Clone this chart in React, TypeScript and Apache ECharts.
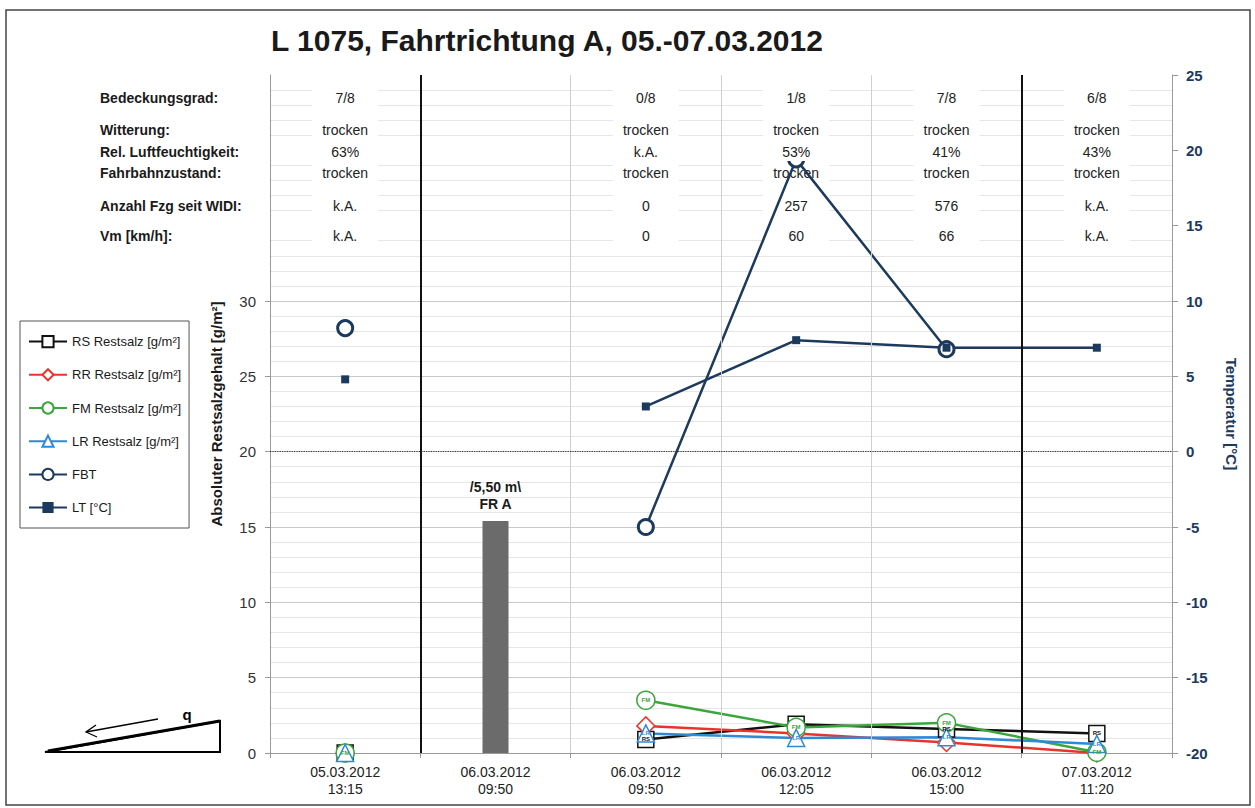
import React, { useEffect, useRef } from "react";
import * as echarts from "echarts";

const categories = [
  "05.03.2012\n13:15",
  "06.03.2012\n09:50",
  "06.03.2012\n09:50",
  "06.03.2012\n12:05",
  "06.03.2012\n15:00",
  "07.03.2012\n11:20",
];

const rsValues = [0, null, 0.9, 1.9, 1.6, 1.3];
const rrValues = [0, null, 1.8, 1.3, 0.7, 0];
const fmValues = [0, null, 3.5, 1.7, 2.0, 0.05];
const lrValues = [0, null, 1.3, 1.0, 1.05, 0.6];
const fbtValues = [8.2, null, -5.0, 19.4, 6.8, null];
const ltValues = [4.8, null, 3.0, 7.4, 6.9, 6.9];
const barValues = [null, 15.4, null, null, null, null];
const barLabel = "/5,50 m\\\nFR A";

const leftTicks = [0, 5, 10, 15, 20, 25, 30];

const headerLabels = [
  "Bedeckungsgrad:",
  "Witterung:",
  "Rel. Luftfeuchtigkeit:",
  "Fahrbahnzustand:",
  "Anzahl Fzg seit WIDI:",
  "Vm [km/h]:",
];
const rowBedeckung = ["7/8", "", "0/8", "1/8", "7/8", "6/8"];
const rowWitterung = ["trocken", "", "trocken", "trocken", "trocken", "trocken"];
const rowFeuchte = ["63%", "", "k.A.", "53%", "41%", "43%"];
const rowFahrbahn = ["trocken", "", "trocken", "trocken", "trocken", "trocken"];
const rowAnzahl = ["k.A.", "", "0", "257", "576", "k.A."];
const rowVm = ["k.A.", "", "0", "60", "66", "k.A."];
const headerRows = [rowBedeckung, rowWitterung, rowFeuchte, rowFahrbahn, rowAnzahl, rowVm];
const headerRowY = [98, 130, 152, 173, 206, 236];
const headerRowOpaque = [true, true, true, false, false, false];

const NAVY = "#1c3a5e";
const FONT = "'Liberation Sans', Arial, sans-serif";

export default function App() {
  const ref = useRef<HTMLDivElement>(null);

  useEffect(() => {
    if (!ref.current) return;
    const chart = echarts.init(ref.current, undefined, { renderer: "svg" });

    const gridLeft = 270;
    const gridRight = 1172;
    const colW = (gridRight - gridLeft) / categories.length;

    const graphics: any[] = [];
    graphics.push({
      type: "rect",
      shape: { x: 6, y: 10, width: 1244, height: 795 },
      style: { fill: "none", stroke: "#444", lineWidth: 1.5 },
      z: 0,
    });
    headerRows[0].forEach((_, ci) => {
      const hasText = headerRows.some((r) => r[ci] !== "");
      if (!hasText) return;
      const cx = gridLeft + colW * (ci + 0.5);
      graphics.push({
        type: "rect",
        shape: { x: cx - 33, y: 80, width: 66, height: 168 },
        style: { fill: "#fff" },
        z: 1,
      });
    });
    headerLabels.forEach((t, ri) => {
      graphics.push({
        type: "text",
        x: 100,
        y: headerRowY[ri],
        style: {
          text: t,
          font: `bold 14px ${FONT}`,
          fill: "#1a1a1a",
          textAlign: "left",
          textVerticalAlign: "middle",
        },
        z: 1.5,
      });
      headerRows[ri].forEach((v, ci) => {
        if (!v) return;
        const opaque = headerRowOpaque[ri];
        graphics.push({
          type: "text",
          x: gridLeft + colW * (ci + 0.5),
          y: headerRowY[ri],
          style: {
            text: v,
            font: `14px ${FONT}`,
            fill: "#222",
            textAlign: "center",
            textVerticalAlign: "middle",
            backgroundColor: opaque ? "#fff" : undefined,
            padding: opaque ? [2, 4] : undefined,
          },
          z: opaque ? 6 : 1.5,
        });
      });
    });
    graphics.push({
      type: "polygon",
      shape: { points: [[45, 752], [220, 721], [220, 752]] },
      style: { fill: "none", stroke: "#000", lineWidth: 2 },
      z: 1,
    });
    graphics.push({
      type: "line",
      shape: { x1: 48, y1: 751, x2: 220, y2: 721 },
      style: { stroke: "#000", lineWidth: 3 },
      z: 1,
    });
    graphics.push({
      type: "line",
      shape: { x1: 158, y1: 719, x2: 86, y2: 732 },
      style: { stroke: "#000", lineWidth: 1.3 },
      z: 1,
    });
    graphics.push({
      type: "polyline",
      shape: { points: [[96, 725], [86, 732], [97, 737]] },
      style: { fill: "none", stroke: "#000", lineWidth: 1.3 },
      z: 1,
    });
    graphics.push({
      type: "text",
      x: 187,
      y: 714,
      style: {
        text: "q",
        font: `bold 15px ${FONT}`,
        fill: "#000",
        textAlign: "center",
        textVerticalAlign: "middle",
      },
      z: 1,
    });

    const saltSeries = (
      name: string,
      data: (number | null)[],
      color: string,
      symbol: string,
      size: number,
      tag: string
    ) => ({
      name,
      type: "line",
      data,
      xAxisIndex: 0,
      yAxisIndex: 0,
      symbol,
      symbolSize: size,
      showAllSymbol: true,
      lineStyle: { color, width: 2.5 },
      itemStyle: { color: "#fff", borderColor: color, borderWidth: 1.5 },
      label: {
        show: tag !== "",
        position: "inside",
        formatter: tag,
        fontSize: 6,
        fontWeight: "bold",
        color,
        fontFamily: FONT,
      },
      labelLayout: { hideOverlap: true },
      z: 3,
    });

    const option: any = {
      animation: false,
      backgroundColor: "#fff",
      title: {
        text: "L 1075, Fahrtrichtung A, 05.-07.03.2012",
        left: 266,
        top: 20,
        textStyle: { fontFamily: FONT, fontSize: 30, fontWeight: "bold", color: "#1a1a1a" },
      },
      grid: { left: gridLeft, right: 1255 - gridRight, top: 75, bottom: 55, containLabel: false },
      legend: {
        orient: "vertical",
        left: 20,
        top: 321,
        padding: [14, 8, 14, 8],
        itemGap: 20,
        itemWidth: 38,
        itemHeight: 14,
        borderColor: "#555",
        borderWidth: 1,
        textStyle: { fontFamily: FONT, fontSize: 13, color: "#1a1a1a" },
        data: [
          "RS Restsalz [g/m²]",
          "RR Restsalz [g/m²]",
          "FM Restsalz [g/m²]",
          "LR Restsalz [g/m²]",
          "FBT",
          "LT [°C]",
        ],
      },
      xAxis: [
        {
          type: "category",
          data: categories,
          boundaryGap: true,
          axisLine: { lineStyle: { color: "#999", width: 1 } },
          axisTick: { show: true, length: 5, lineStyle: { color: "#999" } },
          axisLabel: {
            fontFamily: FONT,
            fontSize: 14,
            color: "#222",
            lineHeight: 17,
            margin: 10,
          },
          splitLine: { show: false },
        },
        { type: "value", min: 0, max: 6, show: false },
      ],
      yAxis: [
        {
          type: "value",
          min: 0,
          max: 45,
          interval: 5,
          name: "Absoluter Restsalzgehalt [g/m²]",
          nameLocation: "middle",
          nameRotate: 90,
          nameGap: 46,
          nameTextStyle: { fontFamily: FONT, fontSize: 15, fontWeight: "bold", color: "#1a1a1a" },
          axisLine: { show: true, lineStyle: { color: "#999" } },
          axisTick: { show: true, length: 5, lineStyle: { color: "#999" }, customValues: leftTicks },
          axisLabel: {
            fontFamily: FONT,
            fontSize: 15,
            color: "#333",
            margin: 14,
            formatter: (v: number) => (leftTicks.indexOf(v) >= 0 ? String(v) : ""),
          },
          splitLine: { show: true, lineStyle: { color: "#c9c9c9", width: 1 } },
          minorTick: { show: false, splitNumber: 5 },
          minorSplitLine: { show: true, lineStyle: { color: "#e6e6e6", width: 1 } },
        },
        {
          type: "value",
          min: -20,
          max: 25,
          interval: 5,
          position: "right",
          name: "Temperatur [°C]",
          nameLocation: "middle",
          nameRotate: -90,
          nameGap: 52,
          nameTextStyle: { fontFamily: FONT, fontSize: 15, fontWeight: "bold", color: NAVY },
          axisLine: { show: true, lineStyle: { color: "#999" } },
          axisTick: { show: true, length: 6, lineStyle: { color: "#999" } },
          axisLabel: { fontFamily: FONT, fontSize: 15, fontWeight: "bold", color: NAVY, margin: 14 },
          splitLine: { show: false },
        },
      ],
      series: [
        {
          name: "separators",
          type: "line",
          xAxisIndex: 1,
          yAxisIndex: 0,
          data: [],
          silent: true,
          markLine: {
            silent: true,
            symbol: ["none", "none"],
            label: { show: false },
            data: [
              { xAxis: 2, lineStyle: { color: "#cfcfcf", width: 1, type: "solid" } },
              { xAxis: 3, lineStyle: { color: "#cfcfcf", width: 1, type: "solid" } },
              { xAxis: 4, lineStyle: { color: "#cfcfcf", width: 1, type: "solid" } },
              { xAxis: 1, lineStyle: { color: "#111", width: 2, type: "solid" } },
              { xAxis: 5, lineStyle: { color: "#111", width: 2, type: "solid" } },
            ],
          },
        },
        {
          name: "Streubreite",
          type: "bar",
          data: barValues,
          xAxisIndex: 0,
          yAxisIndex: 0,
          barWidth: 26,
          itemStyle: { color: "#6b6b6b" },
          label: {
            show: true,
            position: "top",
            distance: 8,
            formatter: barLabel,
            fontFamily: FONT,
            fontSize: 14,
            fontWeight: "bold",
            color: "#1a1a1a",
            lineHeight: 17,
          },
        },
        saltSeries("RS Restsalz [g/m²]", rsValues, "#111111", "rect", 16, "RS"),
        saltSeries("RR Restsalz [g/m²]", rrValues, "#e8352b", "diamond", 18, ""),
        saltSeries("FM Restsalz [g/m²]", fmValues, "#3aa63c", "circle", 18, "FM"),
        saltSeries("LR Restsalz [g/m²]", lrValues, "#2f8ad6", "triangle", 17, "LR"),
        {
          name: "FBT",
          type: "line",
          data: fbtValues,
          yAxisIndex: 1,
          symbol: "circle",
          symbolSize: 15,
          showAllSymbol: true,
          lineStyle: { color: NAVY, width: 2.5 },
          itemStyle: { color: "#fff", borderColor: NAVY, borderWidth: 3 },
          z: 4,
        },
        {
          name: "LT [°C]",
          type: "line",
          data: ltValues,
          yAxisIndex: 1,
          symbol: "rect",
          symbolSize: 8,
          showAllSymbol: true,
          lineStyle: { color: NAVY, width: 2.5 },
          itemStyle: { color: NAVY },
          z: 4,
          markLine: {
            silent: true,
            symbol: ["none", "none"],
            label: { show: false },
            lineStyle: { color: "#333", type: "dotted", width: 1.2 },
            data: [{ yAxis: 0 }],
          },
        },
      ],
      graphic: { elements: graphics },
    };

    chart.setOption(option);
    return () => chart.dispose();
  }, []);

  return (
    <div
      ref={ref}
      style={{ position: "absolute", left: 0, top: 0, width: 1255, height: 808 }}
    />
  );
}
